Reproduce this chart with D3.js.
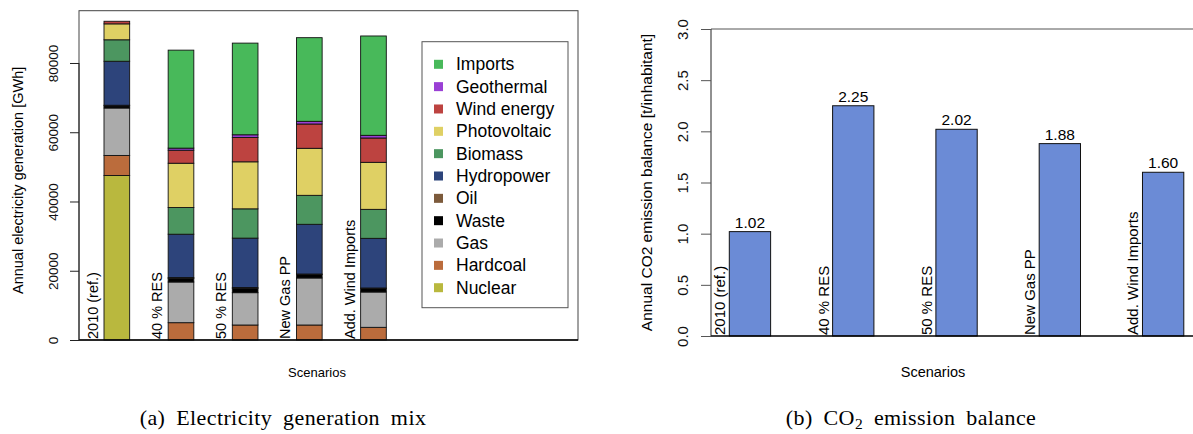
<!DOCTYPE html>
<html>
<head>
<meta charset="utf-8">
<script src="https://cdn.jsdelivr.net/npm/d3@7"></script>
<style>
  body { margin: 0; background: #fff; }
  svg { display: block; font-family: "Liberation Sans", Arial, sans-serif; }
</style>
</head>
<body>
<script>
// scenarios shared by both panels
const scenarios = ["2010 (ref.)", "40 % RES", "50 % RES", "New Gas PP", "Add. Wind Imports"];

// (a) generation mix in GWh, stacked bottom -> top
const sources = ["Nuclear", "Hardcoal", "Gas", "Waste", "Oil", "Hydropower", "Biomass", "Photovoltaic", "Wind energy", "Geothermal", "Imports"];
const nuclear     = [47500,     0,     0,     0,     0];
const hardcoal    = [ 5800,  5000,  4330,  4330,  3660];
const gas         = [13700, 11750,  9340, 13580, 10200];
const waste       = [  600,  1000,  1200,  1000,  1000];
const oil         = [  200,   300,   300,   150,   160];
const hydropower  = [12700, 12500, 14250, 14350, 14340];
const biomass     = [ 6200,  7700,  8460,  8370,  8370];
const photovoltaic= [ 4600, 12800, 13580, 13580, 13580];
const wind        = [  750,  3760,  7040,  7020,  7030];
const geothermal  = [    0,   600,   770,   770,   770];
const imports     = [    0, 28300, 26470, 24160, 28690];
const mixTicks = [0, 20000, 40000, 60000, 80000];

// (b) CO2 emission balance, t per inhabitant
const co2 = [1.02, 2.25, 2.02, 1.88, 1.60];
const co2Ticks = [0, 0.5, 1.0, 1.5, 2.0, 2.5, 3.0];

const colors = {
  "Nuclear": "#b9b83e", "Hardcoal": "#bb6c3c", "Gas": "#ababab", "Waste": "#000000",
  "Oil": "#7c5a3b", "Hydropower": "#2d447b", "Biomass": "#4c9660", "Photovoltaic": "#dfd064",
  "Wind energy": "#bd4340", "Geothermal": "#9a3fd5", "Imports": "#48b95a"
};

const series = [nuclear, hardcoal, gas, waste, oil, hydropower, biomass, photovoltaic, wind, geothermal, imports];
const table = scenarios.map((s, i) => {
  const row = { scenario: s };
  sources.forEach((k, j) => row[k] = series[j][i]);
  return row;
});

const svg = d3.select("body").append("svg")
  .attr("width", 1193)
  .attr("height", 434);

// ---------- panel (a) ----------
const a = { left: 79, right: 578, top: 10.7, bottom: 340 };

const xA = d3.scaleBand()
  .domain(scenarios)
  .range([104, 386.3])
  .paddingInner(0.6)
  .paddingOuter(0);

const yA = d3.scaleLinear()
  .domain([0, 95100])
  .range([a.bottom, a.top]);

const stacked = d3.stack().keys(sources)(table);

const gA = svg.append("g");

gA.selectAll("g.layer")
  .data(stacked)
  .enter()
  .append("g")
  .attr("class", "layer")
  .attr("fill", d => colors[d.key])
  .selectAll("rect")
  .data(d => d.filter(p => p[1] > p[0]))
  .enter()
  .append("rect")
  .attr("x", d => xA(d.data.scenario))
  .attr("y", d => yA(d[1]))
  .attr("width", xA.bandwidth())
  .attr("height", d => yA(d[0]) - yA(d[1]))
  .attr("stroke", "#111")
  .attr("stroke-width", 0.9);

// box
gA.append("rect")
  .attr("x", a.left).attr("y", a.top)
  .attr("width", a.right - a.left).attr("height", a.bottom - a.top)
  .attr("fill", "none").attr("stroke", "#444").attr("stroke-width", 1);
gA.append("line")
  .attr("x1", a.left).attr("x2", a.right)
  .attr("y1", a.bottom).attr("y2", a.bottom)
  .attr("stroke", "#000").attr("stroke-width", 1.3);

// y axis, R style rotated labels
const axA = gA.append("g")
  .attr("transform", `translate(${a.left},0)`)
  .call(d3.axisLeft(yA).tickValues(mixTicks).tickSize(9).tickFormat(d3.format("d")));
axA.select(".domain").attr("d", `M0,${yA(0)}V${yA(80000)}`).attr("stroke", "#222");
axA.selectAll(".tick line").attr("stroke", "#222");
axA.selectAll(".tick text")
  .attr("x", 0).attr("dy", null)
  .attr("transform", "translate(-26,0) rotate(-90)")
  .attr("text-anchor", "middle")
  .attr("dominant-baseline", "central")
  .style("font-size", "13.5px")
  .attr("fill", "#111");

gA.append("text")
  .attr("transform", `translate(18,${(a.top + a.bottom) / 2 + 5}) rotate(-90)`)
  .attr("text-anchor", "middle")
  .attr("dominant-baseline", "central")
  .style("font-size", "14.5px")
  .text("Annual electricity generation [GWh]");

gA.selectAll("text.scen")
  .data(scenarios)
  .enter()
  .append("text")
  .attr("class", "scen")
  .attr("transform", d => `translate(${xA(d) - 6},${a.bottom - 1}) rotate(-90)`)
  .style("font-size", "14.5px")
  .text(d => d);

gA.append("text")
  .attr("x", 317).attr("y", 377)
  .attr("text-anchor", "middle")
  .style("font-size", "13px")
  .text("Scenarios");

// legend
const legend = gA.append("g");
legend.append("rect")
  .attr("x", 422).attr("y", 41.7)
  .attr("width", 146).attr("height", 266)
  .attr("fill", "#fff").attr("stroke", "#555");
const legendKeys = sources.slice().reverse();
const yLeg = d3.scalePoint().domain(legendKeys).range([64.3, 287.7]);
legend.selectAll("rect.key")
  .data(legendKeys)
  .enter()
  .append("rect")
  .attr("class", "key")
  .attr("x", 434).attr("y", d => yLeg(d) - 4.5)
  .attr("width", 9).attr("height", 9)
  .attr("fill", d => colors[d]);
legend.selectAll("text.key")
  .data(legendKeys)
  .enter()
  .append("text")
  .attr("class", "key")
  .attr("x", 456).attr("y", d => yLeg(d))
  .attr("dominant-baseline", "central")
  .style("font-size", "17.5px")
  .text(d => d);

// ---------- panel (b) ----------
const b = { left: 711, right: 1200, top: 29, bottom: 336 };

const xB = d3.scaleBand()
  .domain(scenarios)
  .range([729.3, 1183.8])
  .paddingInner(0.6)
  .paddingOuter(0);

const yB = d3.scaleLinear()
  .domain([0, 3])
  .range([b.bottom, b.top]);

const gB = svg.append("g");

gB.selectAll("rect.bar")
  .data(co2)
  .enter()
  .append("rect")
  .attr("class", "bar")
  .attr("x", (d, i) => xB(scenarios[i]))
  .attr("y", d => yB(d))
  .attr("width", xB.bandwidth())
  .attr("height", d => yB(0) - yB(d))
  .attr("fill", "#6b8bd6")
  .attr("stroke", "#111")
  .attr("stroke-width", 1);

gB.append("line")
  .attr("x1", b.left).attr("x2", b.right)
  .attr("y1", b.top).attr("y2", b.top)
  .attr("stroke", "#555");
gB.append("line")
  .attr("x1", b.left).attr("x2", b.right)
  .attr("y1", b.bottom).attr("y2", b.bottom)
  .attr("stroke", "#000").attr("stroke-width", 1.3);

const axB = gB.append("g")
  .attr("transform", `translate(${b.left},0)`)
  .call(d3.axisLeft(yB).tickValues(co2Ticks).tickSize(10).tickFormat(d3.format(".1f")));
axB.select(".domain").attr("d", `M0,${b.bottom}V${b.top}`).attr("stroke", "#222");
axB.selectAll(".tick line").attr("stroke", "#555");
axB.selectAll(".tick text")
  .attr("x", 0).attr("dy", null)
  .attr("transform", "translate(-29,0) rotate(-90)")
  .attr("text-anchor", "middle")
  .attr("dominant-baseline", "central")
  .style("font-size", "15px")
  .attr("fill", "#111");

gB.append("text")
  .attr("transform", `translate(646.7,${(b.top + b.bottom) / 2}) rotate(-90)`)
  .attr("text-anchor", "middle")
  .attr("dominant-baseline", "central")
  .style("font-size", "15.5px")
  .text("Annual CO2 emission balance [t/inhabitant]");

gB.selectAll("text.val")
  .data(co2)
  .enter()
  .append("text")
  .attr("class", "val")
  .attr("x", (d, i) => xB(scenarios[i]) + xB.bandwidth() / 2)
  .attr("y", d => yB(d) - 4)
  .attr("text-anchor", "middle")
  .style("font-size", "15.5px")
  .text(d => d.toFixed(2));

gB.selectAll("text.scen")
  .data(scenarios)
  .enter()
  .append("text")
  .attr("class", "scen")
  .attr("transform", d => `translate(${xB(d) - 4},${b.bottom - 1}) rotate(-90)`)
  .style("font-size", "15px")
  .text(d => d);

gB.append("text")
  .attr("x", 933).attr("y", 377)
  .attr("text-anchor", "middle")
  .style("font-size", "14.5px")
  .text("Scenarios");

// captions
const cap = svg.append("g")
  .style("font-family", "'Liberation Serif', 'Times New Roman', serif")
  .style("font-size", "22px")
  .style("word-spacing", "5px")
  .style("letter-spacing", "0.4px");
cap.append("text")
  .attr("x", 283).attr("y", 425)
  .attr("text-anchor", "middle")
  .text("(a) Electricity generation mix");
const capB = cap.append("text")
  .attr("x", 911).attr("y", 425)
  .attr("text-anchor", "middle");
capB.append("tspan").text("(b) CO");
capB.append("tspan").attr("dy", 4).style("font-size", "15.5px").text("2");
capB.append("tspan").attr("dy", -4).text(" emission balance");
</script>
</body>
</html>
